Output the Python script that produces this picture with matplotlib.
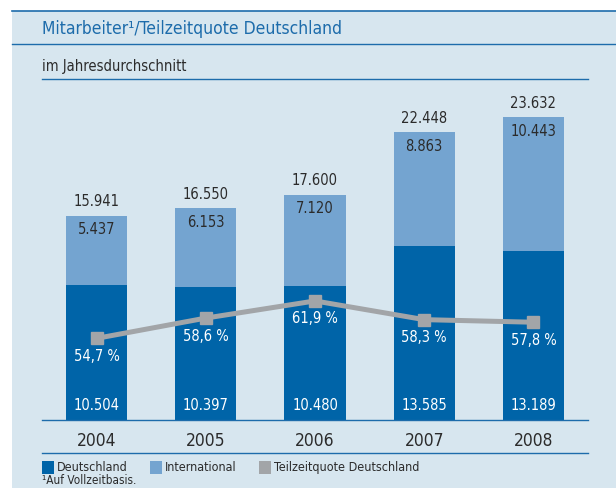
import matplotlib
matplotlib.use("Agg")
import matplotlib.pyplot as plt
from matplotlib.lines import Line2D
from matplotlib.patches import Rectangle
import numpy as np

plt.rcParams['font.family'] = ['Liberation Sans Narrow', 'DejaVu Sans']
plt.rcParams['font.stretch'] = 'condensed'

# data
years = ['2004', '2005', '2006', '2007', '2008']
deutschland = [10504, 10397, 10480, 13585, 13189]
international = [5437, 6153, 7120, 8863, 10443]
totals = [15941, 16550, 17600, 22448, 23632]
teilzeit = [54.7, 58.6, 61.9, 58.3, 57.8]

C_DE = '#0064a8'
C_INT = '#74a4d0'
C_GRAY = '#a2a5a8'
C_BG = '#d7e6ef'
C_LINE = '#1d6cab'
C_TEXT = '#2b2b2b'

W, H = 616, 488


def fx(px):
    return px / W


def fy(py):
    return 1 - py / H


def fmt(v):
    return f'{v:,}'.replace(',', '.')


def fmt_pct(v):
    return f'{v:.1f} %'.replace('.', ',')


fig = plt.figure(figsize=(W / 100, H / 100), dpi=100)
fig.patch.set_facecolor('white')

# background panel
fig.patches.append(Rectangle((fx(12), 0), 1 - fx(12), fy(11), transform=fig.transFigure,
                             facecolor=C_BG, edgecolor='none', zorder=-10))
# header lines
fig.add_artist(Line2D([fx(12), 1], [fy(11), fy(11)], color=C_LINE, lw=1.2))
fig.add_artist(Line2D([fx(12), 1], [fy(44), fy(44)], color=C_LINE, lw=1.0))
fig.add_artist(Line2D([fx(42), fx(588)], [fy(79), fy(79)], color=C_LINE, lw=1.0))
fig.add_artist(Line2D([fx(42), fx(588)], [fy(453), fy(453)], color=C_LINE, lw=1.0))

fig.text(fx(42), fy(29), 'Mitarbeiter¹/Teilzeitquote Deutschland', color=C_LINE,
         fontsize=12.5, va='center', ha='left')
fig.text(fx(42), fy(66), 'im Jahresdurchschnitt', color=C_TEXT,
         fontsize=10.5, va='center', ha='left')

# main axes
ax = fig.add_axes([fx(42), fy(420), fx(588) - fx(42), 333 / H])
ax.set_facecolor('none')
x = np.arange(len(years))
bw = 0.56
ax.bar(x, deutschland, width=bw, color=C_DE, zorder=2)
ax.bar(x, international, width=bw, bottom=deutschland, color=C_INT, zorder=2)
ax.set_xlim(-0.5, 4.5)
ax.set_ylim(0, 26000)
for s in ax.spines.values():
    s.set_visible(False)
ax.spines['bottom'].set_visible(True)
ax.spines['bottom'].set_color(C_LINE)
ax.spines['bottom'].set_linewidth(1.0)
ax.set_yticks([])
ax.set_xticks(x)
ax.set_xticklabels(years, fontsize=12.5, color=C_TEXT, fontweight='medium')
ax.tick_params(axis='x', length=0, pad=9)

for i in range(len(years)):
    ax.annotate(fmt(totals[i]), (x[i], totals[i]), xytext=(0, 14), textcoords='offset pixels',
                ha='center', va='center', fontsize=10.5, color=C_TEXT)
    ax.annotate(fmt(international[i]), (x[i], totals[i]), xytext=(0, -14), textcoords='offset pixels',
                ha='center', va='center', fontsize=10.5, color=C_TEXT, zorder=5)
    ax.annotate(fmt(deutschland[i]), (x[i], 0), xytext=(0, 14), textcoords='offset pixels',
                ha='center', va='center', fontsize=10.5, color='white', zorder=5)

# percentage line
ax2 = ax.twinx()
ax2.set_ylim(39.0, 39.0 + 333 / 5.2)
ax2.plot(x, teilzeit, color=C_GRAY, lw=3.6, marker='s', markersize=9, zorder=4)
ax2.set_yticks([])
for s in ax2.spines.values():
    s.set_visible(False)
for i in range(len(years)):
    ax2.annotate(fmt_pct(teilzeit[i]), (x[i], teilzeit[i]), xytext=(0, -18), textcoords='offset pixels',
                 ha='center', va='center', fontsize=10.5, color='white', zorder=5)

# legend
legend_items = [('Deutschland', C_DE, 42), ('International', C_INT, 150),
                ('Teilzeitquote Deutschland', C_GRAY, 259)]
for label, col, px in legend_items:
    fig.patches.append(Rectangle((fx(px), fy(474)), fx(12), 13 / H, transform=fig.transFigure,
                                 facecolor=col, edgecolor='none'))
    fig.text(fx(px + 15), fy(467.5), label, fontsize=9, color=C_TEXT, va='center', ha='left')

fig.text(fx(42), fy(480.5), '¹Auf Vollzeitbasis.', fontsize=8.5, color=C_TEXT, va='center', ha='left')

fig.savefig('out.png', dpi=100)
